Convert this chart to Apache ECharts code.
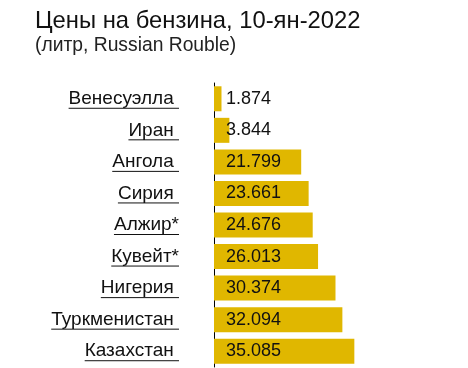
<!DOCTYPE html>
<html><head><meta charset="utf-8">
<script src="https://cdn.jsdelivr.net/npm/echarts@6/dist/echarts.min.js"></script>
<style>html,body{margin:0;padding:0;background:#fff}#c{width:468px;height:368px}</style>
</head><body><div id="c"></div>
<script>
const titleText = 'Цены на бензина, 10-ян-2022';
const subtitleText = '(литр, Russian Rouble)';
const categories = ['Венесуэлла', 'Иран', 'Ангола', 'Сирия', 'Алжир*', 'Кувейт*', 'Нигерия', 'Туркменистан', 'Казахстан'];
const values = [1.874, 3.844, 21.799, 23.661, 24.676, 26.013, 30.374, 32.094, 35.085];
const valueLabels = ['1.874', '3.844', '21.799', '23.661', '24.676', '26.013', '30.374', '32.094', '35.085'];

const FONT = 'Liberation Sans, Arial, sans-serif';
const LABEL_FS = 19;
const ctx = document.createElement('canvas').getContext('2d');
ctx.font = LABEL_FS + 'px ' + FONT;
function labelText(name) { return name.endsWith('*') ? name : name + ' '; }

const chart = echarts.init(document.getElementById('c'));
chart.setOption({
  animation: false,
  title: [
    { text: titleText, left: 30, top: 4, textStyle: { fontFamily: FONT, fontSize: 23.8, fontWeight: 'normal', color: '#111' } },
    { text: subtitleText, left: 30, top: 31, textStyle: { fontFamily: FONT, fontSize: 19.3, fontWeight: 'normal', color: '#222' } }
  ],
  grid: { left: 214, top: 83, width: 230, height: 284, containLabel: false },
  xAxis: { type: 'value', min: 0, max: 57.5, show: false },
  yAxis: {
    type: 'category', data: categories, inverse: true,
    axisLine: { show: true, lineStyle: { color: '#000', width: 1 } },
    axisTick: { show: false }, axisLabel: { show: false }, splitLine: { show: false }
  },
  series: [
    {
      type: 'bar', data: values, barWidth: 25, itemStyle: { color: '#E0B700' },
      label: {
        show: true, position: 'insideLeft', distance: 12,
        formatter: p => valueLabels[p.dataIndex],
        fontFamily: FONT, fontSize: 18, color: '#111'
      }
    },
    {
      type: 'custom', clip: false, silent: true,
      data: categories.map((c, i) => [0, i]),
      encode: { x: 0, y: 1 },
      renderItem: (params, api) => {
        const idx = api.value(1);
        const p = api.coord([0, idx]);
        const txt = labelText(categories[idx]);
        const w = ctx.measureText(txt).width;
        const xr = p[0] - 35;
        return {
          type: 'group',
          children: [
            { type: 'text', style: { text: txt, x: xr, y: p[1], align: 'right', verticalAlign: 'middle', font: LABEL_FS + 'px ' + FONT, fill: '#111' } },
            { type: 'line', shape: { x1: xr - w, y1: p[1] + 9.5, x2: xr, y2: p[1] + 9.5 }, style: { stroke: '#111', lineWidth: 1 } }
          ]
        };
      }
    }
  ]
});
</script></body></html>
